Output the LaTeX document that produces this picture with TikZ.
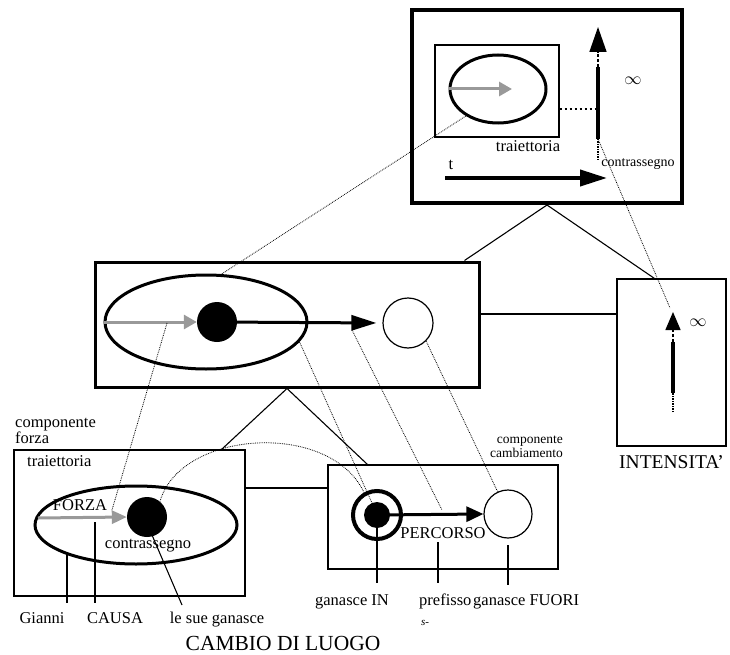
\documentclass[tikz,border=0pt]{standalone}
\usepackage{fontspec}
\setmainfont{Liberation Serif}
\usetikzlibrary{arrows.meta,shapes.geometric,calc}
\begin{document}
\begin{tikzpicture}[x=1pt,y=-1pt,
 thinbox/.style={draw, line width=1.2pt, inner sep=0},
 thickbox/.style={draw, line width=3pt, inner sep=0},
 oval/.style={ellipse, draw, line width=3pt, inner sep=0},
 bigdot/.style={circle, fill=black, inner sep=0},
 hollow/.style={circle, draw, line width=1.2pt, inner sep=0, fill=white},
 lbl/.style={inner sep=0, font=\fontsize{16.5}{18}\selectfont},
 smalllbl/.style={inner sep=0, font=\fontsize{14}{16}\selectfont},
 biglbl/.style={inner sep=0, font=\fontsize{21.5}{24}\selectfont},
 link/.style={line width=1.1pt},
 trace/.style={line width=0.8pt, densely dotted},
 grayarrow/.style={draw=black!40, line width=3pt, -{Triangle[length=13pt,width=14pt]}},
 blackarrow/.style={line width=3pt, -{Triangle[length=25pt,width=15pt]}},
]
\useasboundingbox (0,0) rectangle (730,655);

% ---------- top box ----------
\node[thickbox, line width=4pt, minimum width=270pt, minimum height=193pt] (top) at (547,106.5) {};
\node[thinbox, minimum width=124pt, minimum height=92pt] (inner) at (497,91) {};
\node[oval, minimum width=96pt, minimum height=68pt] (e1) at (498,89) {};
\coordinate (g1) at (512,89);
\draw[grayarrow] (e1.west) -- (g1);
\node[lbl, anchor=base] (trT) at (528,152) {traiettoria};

\coordinate (bT) at (598,139);
\coordinate (bM) at (598,67);
\coordinate (bH) at (598,27);
\coordinate (bD) at (598,160);
\draw[line width=4pt] (bT) -- (bM);
\draw[line width=1.5pt, densely dashed, -{Triangle[length=25pt,width=17pt]}] (bM) -- (bH);
\draw[line width=1.5pt, densely dotted] (bT) -- (bD);
\coordinate (hz) at (595,109);
\draw[line width=2.5pt, dash pattern=on 2.5pt off 2.5pt] (inner.east |- hz) -- (hz);
\node[lbl] (inf1) at (633,81) {$\infty$};
\node[smalllbl, anchor=base] (conT) at (638,167) {contrassegno};

\node[lbl, anchor=base] (tlab) at (451,170) {t};
\coordinate (tS) at (445,178);
\coordinate (tE) at (607,178);
\draw[line width=4pt, -{Triangle[length=27pt,width=16pt]}] (tS) -- (tE);

% ---------- middle box ----------
\node[thickbox, minimum width=384pt, minimum height=125pt] (M) at (287,324.5) {};
\node[oval, minimum width=202pt, minimum height=94pt] (e2) at (206,322) {};
\node[bigdot, minimum size=40pt] (d2) at (217,322) {};
\node[hollow, minimum size=50pt] (c2) at (408,323) {};
\draw[grayarrow] (e2.west) -- (d2.west);
\draw[blackarrow, shorten >=6pt] (d2.center) -- (c2.west);

% ---------- intensity box ----------
\node[thinbox, minimum width=109pt, minimum height=167pt] (I) at (671.5,362.5) {};
\coordinate (iB) at (673,412);
\coordinate (iT) at (673,393);
\coordinate (iM) at (673,342);
\coordinate (iH) at (673,312);
\draw[line width=1.5pt, densely dotted] (iB) -- (iT);
\draw[line width=4.5pt] (iT) -- (iM);
\draw[line width=1.5pt, densely dashed, -{Triangle[length=18pt,width=15pt]}] (iM) -- (iH);
\node[lbl] (inf2) at (698,323) {$\infty$};
\node[inner sep=0, font=\fontsize{19.5}{22}\selectfont, anchor=base west] (intl) at (619,468) {INTENSITA'};

% ---------- lower left box ----------
\node[thinbox, minimum width=231pt, minimum height=146pt] (L) at (129.5,523) {};
\node[oval, minimum width=202pt, minimum height=78pt] (e3) at (136,525) {};
\node[bigdot, minimum size=40pt] (d3) at (147,517) {};
\coordinate (g3) at (38,518);
\draw[grayarrow, -{Triangle[length=15pt,width=13pt]}] (g3) -- (d3.west);
\node[lbl, anchor=base west] (cf1) at (15,427) {componente};
\node[lbl, anchor=base west] (cf2) at (15,443) {forza};
\node[lbl, anchor=base west] (trL) at (27,466) {traiettoria};
\node[lbl, anchor=base] (forza) at (80,510) {FORZA};
\node[lbl, anchor=base] (conL) at (148,548) {contrassegno};

\node[lbl, anchor=base] (gianni) at (42,623) {Gianni};
\node[lbl, anchor=base] (causa) at (115,623) {CAUSA};
\node[lbl, anchor=base] (gan) at (217,623) {le sue ganasce};
\coordinate (ga1) at (67,554); \coordinate (ga2) at (67,603);
\coordinate (ca1) at (95,522); \coordinate (ca2) at (95,603);
\coordinate (ls1) at (152,535); \coordinate (ls2) at (182,605);
\draw[link] (ga1) -- (ga2);
\draw[link] (ca1) -- (ca2);
\draw[link] (ls1) -- (ls2);
\node[biglbl, anchor=base] (cdl) at (283,650) {CAMBIO DI LUOGO};

% ---------- lower right box ----------
\node[thinbox, minimum width=230pt, minimum height=104pt] (R) at (443,517) {};
\node[circle, draw, line width=4pt, minimum size=48pt, inner sep=0] (ring) at (377,515) {};
\node[bigdot, minimum size=26pt] (d4) at (377,515) {};
\node[hollow, minimum size=48pt] (c4) at (508,514) {};
\draw[line width=3pt, -{Triangle[length=17pt,width=15pt]}] (d4.center) -- (c4.west);
\node[lbl, anchor=base] (perc) at (443,538) {PERCORSO};
\node[inner sep=0, font=\fontsize{13.5}{15}\selectfont, anchor=base east] (cc1) at (563,443) {componente};
\node[inner sep=0, font=\fontsize{13.5}{15}\selectfont, anchor=base east] (cc2) at (563,457) {cambiamento};

\node[lbl, anchor=base] (gIN) at (352,605) {ganasce IN};
\node[lbl, anchor=base west] (pref) at (419,605) {prefisso};
\node[inner sep=0, font=\fontsize{11}{12}\selectfont\itshape, anchor=base] (sm) at (425,625) {s-};
\node[lbl, anchor=base west] (gFU) at (473,605) {ganasce FUORI};
\coordinate (in2) at (377,583);
\coordinate (pr1) at (438,542); \coordinate (pr2) at (438,583);
\coordinate (fu1) at (508,545); \coordinate (fu2) at (508,585);
\draw[link] (d4.south) -- (in2);
\draw[link] (pr1) -- (pr2);
\draw[link] (fu1) -- (fu2);

% ---------- structural links ----------
\coordinate (tl) at ($(M.north east)+(-16,0)$);
\coordinate (tr) at ($(I.north west)+(38,0)$);
\draw[link] (tl) -- (top.south) -- (tr);
\coordinate (ml) at ($(L.north east)+(-24,0)$);
\coordinate (mr) at ($(R.north west)+(40,0)$);
\draw[link] (ml) -- (M.south) -- (mr);
\coordinate (h1) at (0,314);
\draw[link] (M.east |- h1) -- (I.west |- h1);
\coordinate (h2) at (0,488);
\draw[link] (L.east |- h2) -- (R.west |- h2);

% ---------- dotted traces ----------
\draw[trace] (e1.220) -- (e2.72);
\coordinate (iTip) at (670,308);
\draw[trace] (bT) -- (iTip);
\coordinate (p1) at (167,323); \coordinate (p2) at (112,510);
\draw[trace] (p1) -- (p2);
\coordinate (q2) at (372,503);
\draw[trace] (e2.-12) -- (q2);
\coordinate (r1) at (352,330); \coordinate (r2) at (442,510);
\draw[trace] (r1) -- (r2);
\draw[trace] (c2.-45) -- (c4.115);
\draw[trace] (d3.50) .. controls (180,430) and (330,420) .. (ring.120);
\end{tikzpicture}
\end{document}
